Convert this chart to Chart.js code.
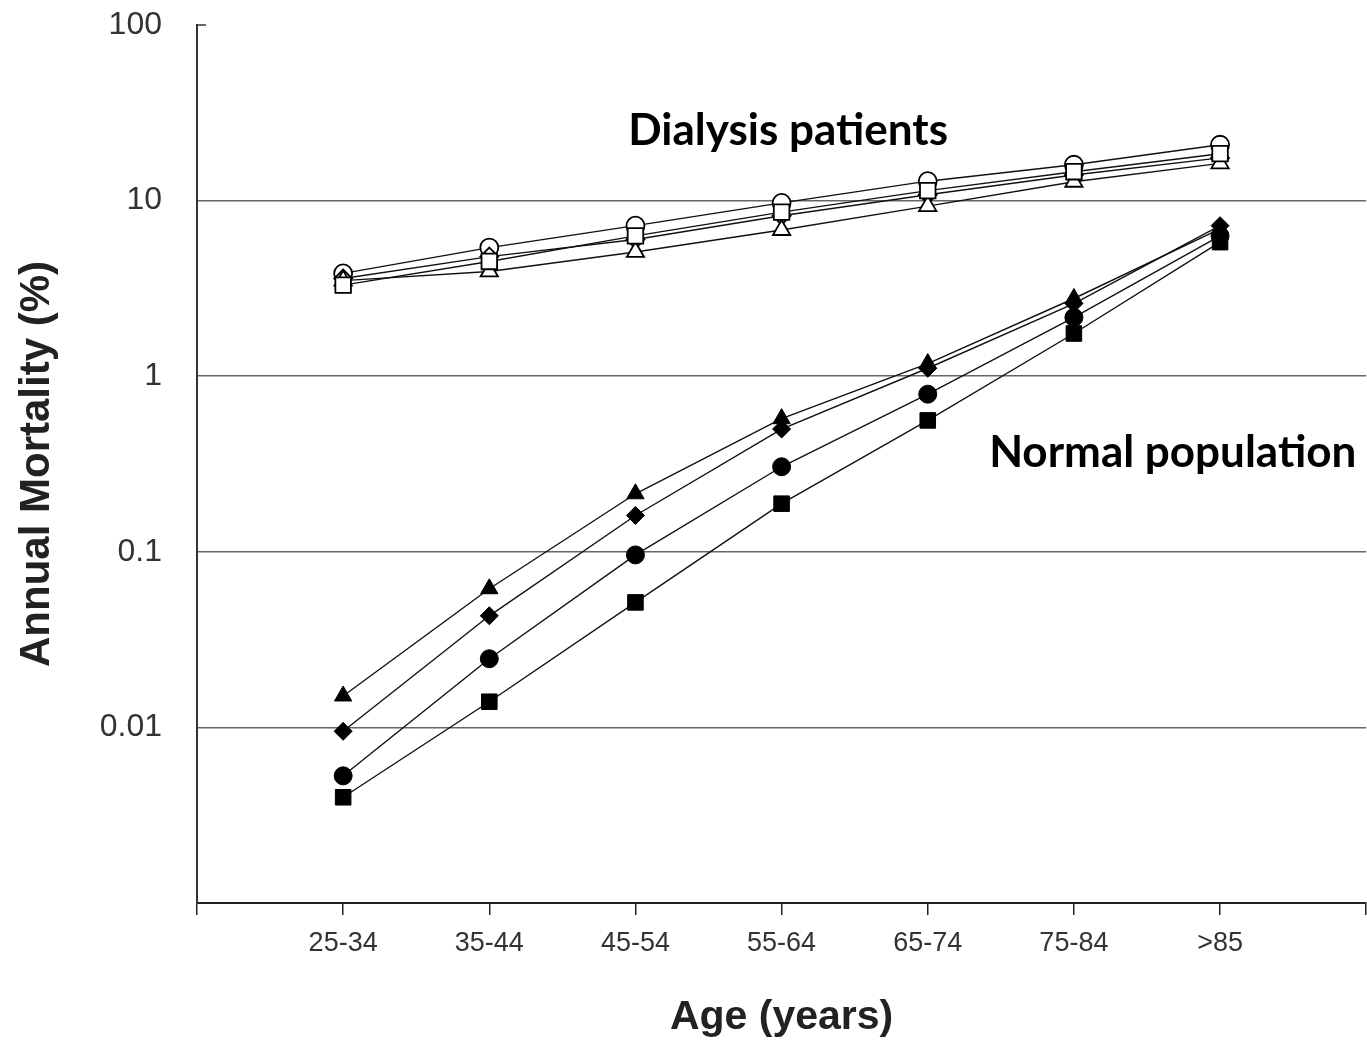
<!DOCTYPE html>
<html>
<head>
<meta charset="utf-8">
<script src="https://cdn.jsdelivr.net/npm/chart.js@4"></script>
<style>
  html, body { margin: 0; padding: 0; background: #fff; overflow: hidden; }
  #wrap { width: 1379px; height: 1043px; }
</style>
</head>
<body>
<div id="wrap"><canvas id="c" width="1379" height="1043"></canvas></div>
<script>
// ---- data ----
const categories = ['25-34', '35-44', '45-54', '55-64', '65-74', '75-84', '>85'];
const yTickValues = [0.001, 0.01, 0.1, 1, 10, 100];
const yTickLabels = ['', '0.01', '0.1', '1', '10', '100'];

// Dialysis patients (open markers)
const dialysisTriangle = [3.5, 3.95, 5.1, 6.8, 9.3, 12.8, 16.3];
const dialysisDiamond  = [3.6, 4.8, 6.0, 8.2, 10.8, 14.0, 17.5];
const dialysisSquare   = [3.3, 4.5, 6.3, 8.6, 11.4, 14.6, 18.5];
const dialysisCircle   = [3.85, 5.4, 7.2, 9.7, 12.9, 16.0, 20.8];

// Normal population (filled markers)
const normalTriangle = [0.0151, 0.0616, 0.214, 0.573, 1.18, 2.77, 6.9];
const normalDiamond  = [0.0095, 0.0432, 0.161, 0.50, 1.11, 2.59, 7.2];
const normalCircle   = [0.0053, 0.0246, 0.096, 0.305, 0.79, 2.16, 6.3];
const normalSquare   = [0.0040, 0.0140, 0.0515, 0.188, 0.56, 1.75, 5.8];

const annotations = [
  { text: 'Dialysis patients', x: 2.95, y: 25 },
  { text: 'Normal population', x: 5.42, y: 0.366 }
];

function pts(arr) { return arr.map((v, i) => ({ x: i + 1, y: v })); }

function ds(label, arr, style, radius, filled) {
  return {
    label: label,
    data: pts(arr),
    borderColor: '#111',
    borderWidth: 1.4,
    pointStyle: style,
    pointRadius: radius,
    pointHoverRadius: radius,
    pointBackgroundColor: filled ? '#000' : '#fff',
    pointBorderColor: '#000',
    pointBorderWidth: filled ? 1 : 1.8,
    fill: false,
    tension: 0
  };
}

const datasets = [
  ds('Normal square', normalSquare, 'rect', 11, true),
  ds('Normal circle', normalCircle, 'circle', 9, true),
  ds('Normal diamond', normalDiamond, 'rectRot', 9, true),
  ds('Normal triangle', normalTriangle, 'triangle', 10, true),
  ds('Dialysis square', dialysisSquare, 'rect', 11, false),
  ds('Dialysis triangle', dialysisTriangle, 'triangle', 10, false),
  ds('Dialysis diamond', dialysisDiamond, 'rectRot', 9, false),
  ds('Dialysis circle', dialysisCircle, 'circle', 9, false)
];

const annotationPlugin = {
  id: 'annot',
  afterDraw(chart) {
    const ctx = chart.ctx;
    const xs = chart.scales.x, ys = chart.scales.y;
    ctx.save();
    ctx.fillStyle = '#000';
    ctx.font = 'bold 44px Lato, "Open Sans", sans-serif';
    ctx.textAlign = 'left';
    ctx.textBaseline = 'middle';
    annotations.forEach(a => {
      ctx.fillText(a.text, xs.getPixelForValue(a.x), ys.getPixelForValue(a.y));
    });
    // small tick at the top (100) of the y axis
    const yTop = ys.getPixelForValue(100);
    ctx.strokeStyle = '#333';
    ctx.lineWidth = 1.5;
    ctx.beginPath();
    ctx.moveTo(chart.chartArea.left, yTop);
    ctx.lineTo(chart.chartArea.left + 9, yTop);
    ctx.stroke();
    ctx.restore();
  }
};

new Chart(document.getElementById('c'), {
  type: 'line',
  data: { datasets: datasets },
  plugins: [annotationPlugin],
  options: {
    responsive: false,
    animation: false,
    layout: { padding: { left: 0, right: 2, top: 25, bottom: 0 } },
    plugins: { legend: { display: false }, tooltip: { enabled: false } },
    scales: {
      x: {
        type: 'linear',
        min: 0,
        max: 8,
        afterBuildTicks: (s) => {
          s.ticks = [0, 1, 2, 3, 4, 5, 6, 7, 8].map(v => ({ value: v }));
        },
        afterFit: (s) => { s.height = 140; s.paddingLeft = 0; s.paddingRight = 0; },
        ticks: {
          autoSkip: false,
          maxRotation: 0,
          padding: 12,
          color: '#333',
          font: { family: '"Liberation Sans", Arial, sans-serif', size: 27 },
          callback: (v) => (v >= 1 && v <= categories.length) ? categories[v - 1] : ''
        },
        grid: {
          drawOnChartArea: false,
          drawTicks: true,
          tickLength: 12,
          color: '#222',
          lineWidth: 1.5
        },
        border: { display: true, color: '#222', width: 2 },
        title: {
          display: true,
          text: 'Age (years)',
          color: '#222',
          font: { family: '"Liberation Sans", Arial, sans-serif', size: 41, weight: 'bold' },
          padding: { top: 0, bottom: 1 }
        }
      },
      y: {
        type: 'logarithmic',
        min: 0.001,
        max: 100,
        afterBuildTicks: (s) => {
          s.ticks = yTickValues.map(v => ({ value: v }));
        },
        afterFit: (s) => { s.width = 197; s.paddingTop = 0; s.paddingBottom = 0; },
        ticks: {
          autoSkip: false,
          padding: 35,
          color: '#333',
          font: { family: '"Liberation Sans", Arial, sans-serif', size: 32 },
          callback: (v) => {
            const i = yTickValues.findIndex(t => Math.abs(t - v) / t < 1e-6);
            return i >= 0 ? yTickLabels[i] : '';
          }
        },
        grid: {
          drawTicks: false,
          color: (ctx) => {
            const v = ctx.tick && ctx.tick.value;
            if (v === undefined) return 'rgba(0,0,0,0)';
            if (v > 50 || v < 0.005) return 'rgba(0,0,0,0)';
            return '#666';
          },
          lineWidth: 1.6
        },
        border: { display: true, color: '#333', width: 2 },
        title: {
          display: true,
          text: 'Annual Mortality (%)',
          color: '#222',
          font: { family: '"Liberation Sans", Arial, sans-serif', size: 42, weight: 'bold' },
          padding: { top: 12, bottom: 0 }
        }
      }
    }
  }
});
</script>
</body>
</html>
